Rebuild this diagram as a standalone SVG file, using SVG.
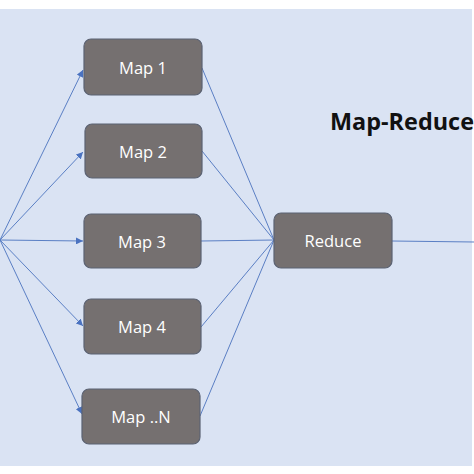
<svg xmlns="http://www.w3.org/2000/svg" width="474" height="474" viewBox="0 0 474 474">
<style>
.node rect{fill:#757070;stroke:#5b6272;stroke-width:1.2}
.node text{fill:#ffffff;font-family:"Open Sans","Liberation Sans",sans-serif;font-size:16.5px;text-anchor:middle;dominant-baseline:central}
.conn line{stroke:#5a7fc4;stroke-width:1}
.title{font-family:"Open Sans","Liberation Sans",sans-serif;font-weight:bold;font-size:23px;fill:#111111}
</style>
<defs>
<marker id="ah" viewBox="0 0 10 10" refX="10" refY="5" markerWidth="7" markerHeight="7" markerUnits="userSpaceOnUse" orient="auto">
<path d="M0,0 L10,5 L0,10 z" fill="#4a72c0"/>
</marker>
</defs>
<rect x="0" y="0" width="474" height="474" fill="#ffffff"/>
<rect x="0" y="9" width="472" height="457" fill="#dae3f3"/>
<g id="connectors" class="conn">
<line x1="0" y1="240" x2="83" y2="70" marker-end="url(#ah)"/>
<line x1="0" y1="240" x2="83" y2="152" marker-end="url(#ah)"/>
<line x1="0" y1="240" x2="83" y2="241" marker-end="url(#ah)"/>
<line x1="0" y1="240" x2="83" y2="326" marker-end="url(#ah)"/>
<line x1="0" y1="240" x2="82" y2="414" marker-end="url(#ah)"/>
<line x1="202" y1="68" x2="274" y2="240"/>
<line x1="202" y1="151" x2="274" y2="240"/>
<line x1="201" y1="241" x2="274" y2="240"/>
<line x1="201" y1="327" x2="274" y2="240"/>
<line x1="200" y1="416" x2="274" y2="240"/>
<line x1="392" y1="241" x2="474" y2="242"/>
</g>
<g id="map1" class="node"><rect x="84" y="39" width="118" height="56" rx="7"/><text x="143" y="67">Map 1</text></g>
<g id="map2" class="node"><rect x="85" y="124" width="117" height="54" rx="7"/><text x="143" y="151">Map 2</text></g>
<g id="map3" class="node"><rect x="84" y="214" width="117" height="54" rx="7"/><text x="142" y="241">Map 3</text></g>
<g id="map4" class="node"><rect x="84" y="299" width="117" height="55" rx="7"/><text x="142" y="326">Map 4</text></g>
<g id="mapN" class="node"><rect x="82" y="389" width="118" height="55" rx="7"/><text x="141" y="416">Map ..N</text></g>
<g id="reduce" class="node"><rect x="274" y="213" width="118" height="55" rx="7"/><text x="333" y="240">Reduce</text></g>
<g id="title"><text class="title" x="330" y="130" textLength="144" lengthAdjust="spacingAndGlyphs">Map-Reduce</text></g>
</svg>
